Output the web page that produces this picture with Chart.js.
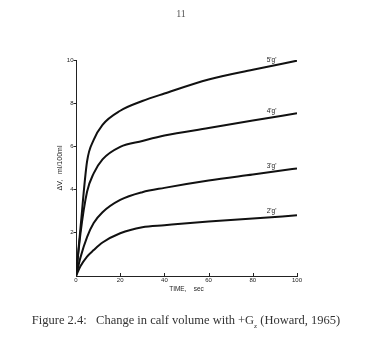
<!DOCTYPE html>
<html>
<head>
<meta charset="utf-8">
<script src="https://cdn.jsdelivr.net/npm/chart.js@4.4.0/dist/chart.umd.min.js"></script>
<style>
  html, body { margin: 0; padding: 0; background: #fff; }
  #wrap { position: relative; width: 379px; height: 348px; }
  #page { position: absolute; left: 0; width: 362px; top: 8px; text-align: center;
          font: 10px "Liberation Serif", serif; color: #555; }
  #caption { position: absolute; left: 0; width: 372px; top: 313px; text-align: center;
             font: 12.5px "Liberation Serif", serif; color: #333; white-space: pre; }
  #caption sub { font-size: 7px; }
</style>
</head>
<body>
<div id="wrap">
  <canvas id="calfChart" width="379" height="348"></canvas>
  <div id="page">11</div>
  <div id="caption">Figure 2.4:   Change in calf volume with +G<sub>z</sub> (Howard, 1965)</div>
</div>
<script>
// time in seconds
const time = [0, 2, 5, 8, 12, 20, 30, 40, 60, 80, 100]
// calf volume change, ml/100ml
const vol5g = [0, 2.2, 5.3, 6.3, 7.0, 7.65, 8.1, 8.45, 9.1, 9.55, 9.97]
const vol4g = [0, 1.95, 3.9, 4.75, 5.4, 5.98, 6.25, 6.5, 6.85, 7.2, 7.53]
const vol3g = [0, 0.85, 1.8, 2.45, 2.95, 3.52, 3.88, 4.08, 4.42, 4.7, 4.98]
const vol2g = [0, 0.45, 0.9, 1.2, 1.55, 1.98, 2.26, 2.35, 2.52, 2.66, 2.81]
const seriesNames = ["5'g'", "4'g'", "3'g'", "2'g'"]
const xTicks = [0, 20, 40, 60, 80, 100]
const yTicks = [2, 4, 6, 8, 10]

const labelAt = 88.5

function points(vals) {
  return time.map((t, i) => ({ x: t, y: vals[i] }))
}

function valueAt(vals, t) {
  for (let i = 1; i < time.length; i++) {
    if (t <= time[i]) {
      const f = (t - time[i - 1]) / (time[i] - time[i - 1])
      return vals[i - 1] + f * (vals[i] - vals[i - 1])
    }
  }
  return vals[vals.length - 1]
}

const curveLabels = {
  id: 'curveLabels',
  afterDatasetsDraw(chart) {
    const { ctx, scales: { x, y } } = chart
    // inward tick marks on the time axis
    ctx.save()
    ctx.strokeStyle = '#222'
    ctx.lineWidth = 1
    xTicks.slice(1).forEach(t => {
      const px = Math.round(x.getPixelForValue(t)) + 0.5
      ctx.beginPath()
      ctx.moveTo(px, y.bottom)
      ctx.lineTo(px, y.bottom - 3)
      ctx.stroke()
    })
    // series names above each curve
    ctx.fillStyle = '#222'
    ctx.font = '6.5px "Liberation Sans", sans-serif'
    ctx.textAlign = 'center'
    ctx.textBaseline = 'middle'
    chart.data.datasets.forEach(ds => {
      const px = x.getPixelForValue(labelAt)
      const py = y.getPixelForValue(valueAt(ds.values, labelAt))
      ctx.fillText(ds.label, px, py - 6)
    })
    ctx.restore()
  }
}

const all = [vol5g, vol4g, vol3g, vol2g]

const chart = new Chart(document.getElementById('calfChart'), {
  type: 'line',
  data: {
    datasets: all.map((vals, i) => ({
      label: seriesNames[i],
      values: vals,
      data: points(vals),
      borderColor: '#111',
      borderWidth: 2,
      pointRadius: 0,
      fill: false,
      cubicInterpolationMode: 'monotone'
    }))
  },
  options: {
    responsive: false,
    animation: false,
    layout: { padding: { left: 50, right: 82, top: 60, bottom: 52 } },
    scales: {
      x: {
        type: 'linear',
        min: 0,
        max: 100,
        afterBuildTicks: s => { s.ticks = xTicks.map(v => ({ value: v })) },
        afterFit: s => { s.height = 20 },
        grid: { display: false, drawTicks: false },
        border: { color: '#222', width: 1 },
        ticks: { padding: 1, color: '#222', font: { family: 'Liberation Sans', size: 6 } },
        title: {
          display: true,
          text: 'TIME,    sec',
          color: '#222',
          padding: { top: 0, bottom: 3 },
          font: { family: 'Liberation Sans', size: 6.5 }
        }
      },
      y: {
        min: 0,
        max: 10,
        afterBuildTicks: s => { s.ticks = yTicks.map(v => ({ value: v })) },
        afterFit: s => { s.width = 26 },
        grid: { drawOnChartArea: false, drawTicks: true, tickLength: 2.5, color: '#222' },
        border: { color: '#222', width: 1 },
        ticks: { padding: 0, color: '#222', font: { family: 'Liberation Sans', size: 6 } },
        title: {
          display: true,
          text: 'ΔV,   ml/100ml',
          color: '#222',
          padding: { top: 6, bottom: 0 },
          font: { family: 'Liberation Sans', size: 7 }
        }
      }
    },
    plugins: {
      legend: { display: false },
      tooltip: { enabled: false }
    }
  },
  plugins: [curveLabels]
})
</script>
</body>
</html>
